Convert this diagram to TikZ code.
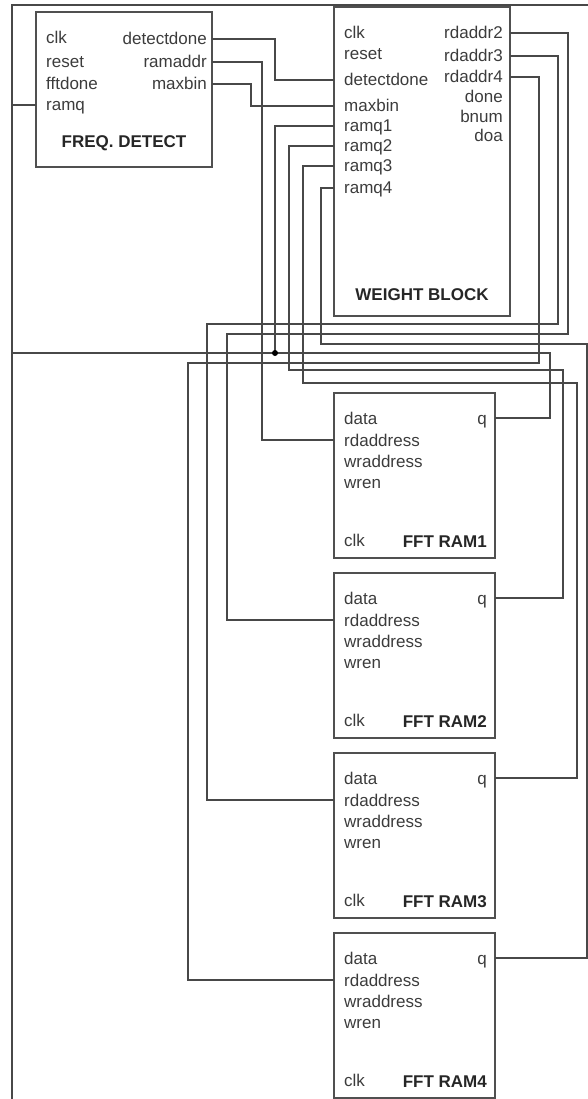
\documentclass[tikz,border=0pt]{standalone}
\usepackage{fontspec}
\setmainfont{Liberation Sans}
\usetikzlibrary{positioning}
\definecolor{wiregray}{RGB}{72,72,72}
\definecolor{boxgray}{RGB}{80,80,80}
\definecolor{txtgray}{RGB}{60,60,60}
\tikzset{
  blockbox/.style={draw=boxgray, line width=1.3pt, outer sep=0pt, inner sep=0pt},
  fdbox/.style={blockbox, minimum width=176pt, minimum height=155pt},
  wbbox/.style={blockbox, minimum width=176pt, minimum height=309pt},
  rambox/.style={blockbox, minimum width=161pt, minimum height=165pt},
  portl/.style={anchor=west, inner sep=0pt, text height=12pt, text depth=0pt,
    text=txtgray, font=\fontsize{17}{20}\selectfont},
  portr/.style={portl, anchor=east},
  blocktitle/.style={inner sep=0pt, text=black!85, font=\fontsize{17}{20}\selectfont\bfseries},
  wire/.style={draw=wiregray, line width=1.1pt}
}

\begin{document}
\begin{tikzpicture}[x=1pt, y=-1pt]
\useasboundingbox (0,0) rectangle (588,1099);
\draw[wire] (12,1099) -- (12,5) -- (588,5);

\node[fdbox] (fd) at (124,89.5) {};
\node[wbbox] (wb) at (422,161.5) {};
\node[rambox] (r1) at (414.5,475.5) {};
\node[rambox, below=15pt of r1] (r2) {};
\node[rambox, below=15pt of r2] (r3) {};
\node[rambox, below=15pt of r3] (r4) {};

\node[portl] (fdclk) at ([shift={(10,26)}]fd.north west) {clk};
\node[portl] (fdrst) at ([shift={(10,50)}]fd.north west) {reset};
\node[portl] (fdfft) at ([shift={(10,72)}]fd.north west) {fftdone};
\node[portl] (fdq) at ([shift={(10,93)}]fd.north west) {ramq};
\node[portr] (fddd) at ([shift={(-5,27)}]fd.north east) {detectdone};
\node[portr] (fdra) at ([shift={(-5,50)}]fd.north east) {ramaddr};
\node[portr] (fdmb) at ([shift={(-5,72)}]fd.north east) {maxbin};
\node[blocktitle] (fdname) at ([yshift=24pt]fd.south) {FREQ. DETECT};

\node[portl] (wbclk) at ([shift={(10,26)}]wb.north west) {clk};
\node[portl] (wbrst) at ([shift={(10,47)}]wb.north west) {reset};
\node[portl] (wbdd) at ([shift={(10,73)}]wb.north west) {detectdone};
\node[portl] (wbmb) at ([shift={(10,99)}]wb.north west) {maxbin};
\node[portl] (wbq1) at ([shift={(10,119)}]wb.north west) {ramq1};
\node[portl] (wbq2) at ([shift={(10,139)}]wb.north west) {ramq2};
\node[portl] (wbq3) at ([shift={(10,159)}]wb.north west) {ramq3};
\node[portl] (wbq4) at ([shift={(10,181)}]wb.north west) {ramq4};
\node[portr] (wbr2) at ([shift={(-7,26)}]wb.north east) {rdaddr2};
\node[portr] (wbr3) at ([shift={(-7,49)}]wb.north east) {rdaddr3};
\node[portr] (wbr4) at ([shift={(-7,70)}]wb.north east) {rdaddr4};
\node[portr] (wbdone) at ([shift={(-7,90)}]wb.north east) {done};
\node[portr] (wbbnum) at ([shift={(-7,110)}]wb.north east) {bnum};
\node[portr] (wbdoa) at ([shift={(-7,129)}]wb.north east) {doa};
\node[blocktitle] (wbname) at ([yshift=21pt]wb.south) {WEIGHT BLOCK};

\node[portl] (r1data) at ([shift={(10,25)}]r1.north west) {data};
\node[portl] (r1rd) at ([shift={(10,47)}]r1.north west) {rdaddress};
\node[portl] (r1wr) at ([shift={(10,68)}]r1.north west) {wraddress};
\node[portl] (r1wren) at ([shift={(10,89)}]r1.north west) {wren};
\node[portl] (r1clk) at ([shift={(10,147)}]r1.north west) {clk};
\node[portr] (r1q) at ([shift={(-8,25)}]r1.north east) {q};
\node[blocktitle, anchor=east] (r1name) at ([shift={(-8,149)}]r1.north east) {FFT RAM1};

\node[portl] (r2data) at ([shift={(10,25)}]r2.north west) {data};
\node[portl] (r2rd) at ([shift={(10,47)}]r2.north west) {rdaddress};
\node[portl] (r2wr) at ([shift={(10,68)}]r2.north west) {wraddress};
\node[portl] (r2wren) at ([shift={(10,89)}]r2.north west) {wren};
\node[portl] (r2clk) at ([shift={(10,147)}]r2.north west) {clk};
\node[portr] (r2q) at ([shift={(-8,25)}]r2.north east) {q};
\node[blocktitle, anchor=east] (r2name) at ([shift={(-8,149)}]r2.north east) {FFT RAM2};

\node[portl] (r3data) at ([shift={(10,25)}]r3.north west) {data};
\node[portl] (r3rd) at ([shift={(10,47)}]r3.north west) {rdaddress};
\node[portl] (r3wr) at ([shift={(10,68)}]r3.north west) {wraddress};
\node[portl] (r3wren) at ([shift={(10,89)}]r3.north west) {wren};
\node[portl] (r3clk) at ([shift={(10,147)}]r3.north west) {clk};
\node[portr] (r3q) at ([shift={(-8,25)}]r3.north east) {q};
\node[blocktitle, anchor=east] (r3name) at ([shift={(-8,149)}]r3.north east) {FFT RAM3};

\node[portl] (r4data) at ([shift={(10,25)}]r4.north west) {data};
\node[portl] (r4rd) at ([shift={(10,47)}]r4.north west) {rdaddress};
\node[portl] (r4wr) at ([shift={(10,68)}]r4.north west) {wraddress};
\node[portl] (r4wren) at ([shift={(10,89)}]r4.north west) {wren};
\node[portl] (r4clk) at ([shift={(10,147)}]r4.north west) {clk};
\node[portr] (r4q) at ([shift={(-8,25)}]r4.north east) {q};
\node[blocktitle, anchor=east] (r4name) at ([shift={(-8,149)}]r4.north east) {FFT RAM4};

\draw[wire] (fd.east |- fddd) -- ++(63,0) |- (wb.west |- wbdd);
\draw[wire] (fd.east |- fdra) -- ++(50,0) |- (r1.west |- r1rd);
\draw[wire] (fd.east |- fdmb) -- ++(39,0) |- (wb.west |- wbmb);
\draw[wire] (r1.east |- r1q) -| ++(55,-65) coordinate (fb) -| ++(-538,-248) -- (fd.west |- fdq);
\draw[wire] (wb.west |- wbq1) -- ++(-59,0) coordinate (q1x) -- (q1x |- fb);
\fill (q1x |- fb) circle (3pt);
\draw[wire] (wb.west |- wbq2) -- ++(-45,0) |- ++(274,224) |- (r2.east |- r2q);
\draw[wire] (wb.west |- wbq3) -- ++(-31,0) |- ++(274,217) |- (r3.east |- r3q);
\draw[wire] (wb.west |- wbq4) -- ++(-13,0) |- ++(266,156) |- (r4.east |- r4q);
\draw[wire] (wb.east |- wbr2) -- ++(58,0) |- ++(-341,301) |- (r2.west |- r2rd);
\draw[wire] (wb.east |- wbr3) -- ++(48,0) |- ++(-351,268) |- (r3.west |- r3rd);
\draw[wire] (wb.east |- wbr4) -- ++(29,0) |- ++(-351,286) |- (r4.west |- r4rd);
\end{tikzpicture}
\end{document}
